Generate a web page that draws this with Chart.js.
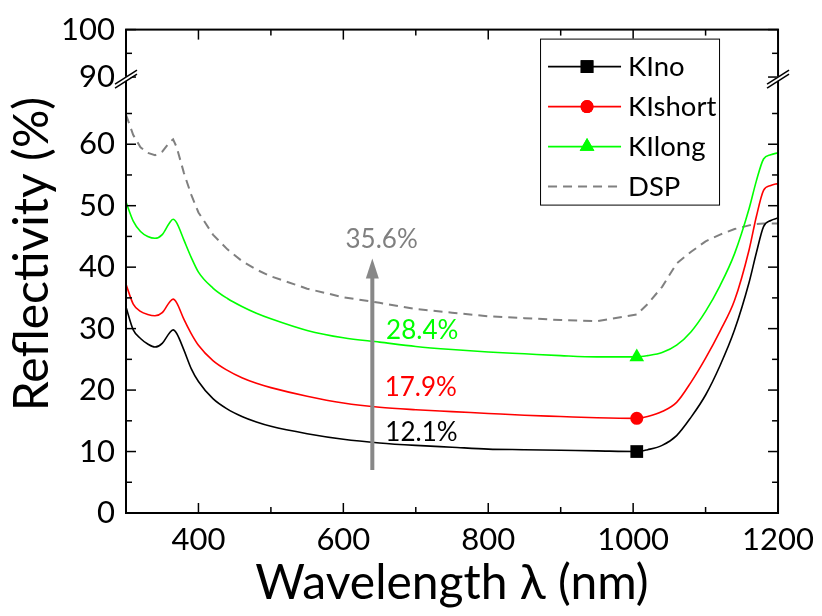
<!DOCTYPE html>
<html lang="en">
<head>
  <meta charset="UTF-8">
  <title>Reflectivity</title>
  <script src="https://cdn.jsdelivr.net/npm/chart.js"></script>
  <style>
    body { margin: 0; background: #fff; }
    #wrap { width: 822px; height: 616px; position: relative; }
  </style>
</head>
<body>
  <div id="wrap"><canvas id="reflChart"></canvas></div>
  <script>
    // wavelength (nm) and reflectivity (%)
    const wavelength = [300, 310, 320, 330, 340, 350, 360, 365, 370, 380, 390, 400, 420, 440, 460, 480, 500,
      550, 600, 650, 700, 750, 800, 850, 900, 950, 1005, 1020, 1040, 1060, 1080, 1100, 1120, 1140, 1160, 1170, 1180, 1190, 1200];
    const kiNo = [33.5, 29.8, 28.4, 27.5, 27.0, 27.6, 29.3, 29.8, 29.2, 26.5, 23.5, 21.4, 18.6, 16.9, 15.7, 14.8, 14.1,
      12.9, 12.0, 11.4, 11.0, 10.7, 10.4, 10.3, 10.2, 10.1, 10.0, 10.3, 11.0, 12.6, 15.6, 19.2, 24.0, 29.8, 37.5, 42.3, 46.6, 47.6, 48.0];
    const kiShort = [37.2, 34.0, 32.8, 32.3, 32.1, 32.6, 34.3, 34.8, 34.2, 31.5, 29.2, 27.3, 24.8, 23.2, 22.0, 21.1, 20.4,
      19.0, 17.9, 17.2, 16.8, 16.5, 16.2, 15.9, 15.7, 15.5, 15.4, 15.7, 16.5, 18.0, 21.3, 25.2, 29.6, 34.6, 42.8, 48.2, 52.5, 53.3, 53.6];
    const kiLong = [50.6, 47.5, 45.8, 45.0, 44.7, 45.3, 47.2, 47.8, 47.2, 44.4, 41.6, 39.2, 36.6, 34.9, 33.6, 32.5, 31.6,
      29.7, 28.5, 27.8, 27.1, 26.6, 26.2, 25.9, 25.6, 25.4, 25.4, 25.6, 26.1, 27.3, 29.5, 32.8, 37.0, 42.2, 49.5, 54.0, 57.6, 58.3, 58.6];
    const dsp = [64.8, 61.5, 59.5, 58.6, 58.2, 58.8, 60.3, 60.8, 59.5, 55.3, 51.8, 48.9, 45.3, 42.9, 41.0, 39.6, 38.5,
      36.5, 35.1, 34.2, 33.2, 32.6, 32.0, 31.7, 31.4, 31.2, 32.3, 34.0, 36.8, 40.6, 42.5, 44.2, 45.3, 46.2, 46.8, 47.0, 47.1, 47.1, 47.1];
    const seriesNames = ['KIno', 'KIshort', 'KIlong', 'DSP'];
    const markerWavelength = 1005;

    const xTicks = [400, 600, 800, 1000, 1200];
    const xMinorTicks = [500, 700, 900, 1100];
    const yTicksLower = [0, 10, 20, 30, 40, 50, 60];
    const yMinorLower = [5, 15, 25, 35, 45, 55, 65];
    const yTicksUpper = [90, 100];
    const yMinorUpper = [95];

    // averaged reflectivity labels, placed in data coordinates (wavelength, %)
    const avgLabels = ['35.6%', '28.4%', '17.9%', '12.1%'];
    const avgLabelX = [603, 659, 657, 658];
    const avgLabelY = [44.4, 29.6, 20.4, 13.1];
    const avgColors = ['#808080', '#00ff00', '#ff0000', '#000000'];
    const arrowX = 640;
    const arrowFrom = 7.0;
    const arrowTo = 41.4;

    const FONT = 'Lato';
    Chart.defaults.font.family = FONT;
    Chart.defaults.color = '#000';

    const styles = [
      { color: '#000000', marker: 'rect', radius: 9, dash: [] },
      { color: '#ff0000', marker: 'circle', radius: 6.5, dash: [] },
      { color: '#00ff00', marker: 'triangle', radius: 8.5, dash: [] },
      { color: '#808080', marker: false, radius: 0, dash: [9, 6] }
    ];
    const allSeries = [kiNo, kiShort, kiLong, dsp];

    const datasets = allSeries.map((vals, i) => ({
      label: seriesNames[i],
      data: wavelength.map((w, j) => ({ x: w, y: vals[j] })),
      yAxisID: 'y',
      borderColor: styles[i].color,
      backgroundColor: styles[i].color,
      borderWidth: i === 3 ? 2 : 1.6,
      borderDash: styles[i].dash,
      cubicInterpolationMode: i === 3 ? 'default' : 'monotone',
      tension: 0,
      pointStyle: styles[i].marker || 'circle',
      pointRadius: c => (styles[i].marker && wavelength[c.dataIndex] === markerWavelength) ? styles[i].radius : 0,
      pointBorderWidth: 0
    }));

    const plainTick = v => String(v);

    const decorPlugin = {
      id: 'decor',
      afterDatasetsDraw(chart) {
        const { ctx, chartArea: a, scales } = chart;
        const x = scales.x, y = scales.y, y2 = scales.y2;
        ctx.save();

        // arrow
        const ax = x.getPixelForValue(arrowX);
        const ay0 = y.getPixelForValue(arrowFrom);
        const ay1 = y.getPixelForValue(arrowTo);
        ctx.strokeStyle = '#888888';
        ctx.fillStyle = '#888888';
        ctx.lineWidth = 4;
        ctx.beginPath();
        ctx.moveTo(ax, ay0);
        ctx.lineTo(ax, ay1 + 16);
        ctx.stroke();
        ctx.beginPath();
        ctx.moveTo(ax, ay1);
        ctx.lineTo(ax - 6.5, ay1 + 20);
        ctx.lineTo(ax + 6.5, ay1 + 20);
        ctx.closePath();
        ctx.fill();

        // average labels
        ctx.font = '26px ' + FONT;
        ctx.textAlign = 'left';
        ctx.textBaseline = 'middle';
        avgLabels.forEach((t, i) => {
          ctx.fillStyle = avgColors[i];
          ctx.fillText(t, x.getPixelForValue(avgLabelX[i]), y.getPixelForValue(avgLabelY[i]));
        });

        // frame
        ctx.strokeStyle = '#000';
        ctx.lineWidth = 2;
        ctx.strokeRect(a.left, a.top, a.right - a.left, a.bottom - a.top);

        // inward ticks
        ctx.lineWidth = 1.5;
        const seg = (x1, y1, x2, y2p) => { ctx.beginPath(); ctx.moveTo(x1, y1); ctx.lineTo(x2, y2p); ctx.stroke(); };
        const xTick = (v, len) => {
          const px = x.getPixelForValue(v);
          seg(px, a.bottom, px, a.bottom - len);
          seg(px, a.top, px, a.top + len);
        };
        const yTick = (sc, v, len) => {
          const py = sc.getPixelForValue(v);
          seg(a.left, py, a.left + len, py);
          seg(a.right, py, a.right - len, py);
        };
        xTicks.forEach(v => xTick(v, 10));
        xMinorTicks.forEach(v => xTick(v, 6));
        yTicksLower.forEach(v => yTick(y, v, 10));
        yMinorLower.forEach(v => yTick(y, v, 6));
        yTicksUpper.forEach(v => yTick(y2, v, 10));
        yMinorUpper.forEach(v => yTick(y2, v, 6));

        // axis break marks
        const by = y.top;
        [a.left, a.right].forEach(bx => {
          ctx.fillStyle = '#fff';
          ctx.beginPath();
          ctx.moveTo(bx - 10, by + 6);
          ctx.lineTo(bx + 10, by - 7);
          ctx.lineTo(bx + 10, by - 3);
          ctx.lineTo(bx - 10, by + 10);
          ctx.closePath();
          ctx.fill();
          ctx.lineWidth = 1.5;
          seg(bx - 11, by + 7, bx + 11, by - 7);
          seg(bx - 11, by + 11, bx + 11, by - 3);
        });

        // y title
        ctx.save();
        ctx.translate(33, 254);
        ctx.rotate(-Math.PI / 2);
        ctx.fillStyle = '#000';
        ctx.font = '48px ' + FONT;
        ctx.textAlign = 'center';
        ctx.textBaseline = 'middle';
        ctx.fillText('Reflectivity (%)', 0, 0);
        ctx.restore();

        // legend box
        const lx = a.right - 238, ly = a.top + 9, lw = 179, lh = 166;
        ctx.lineWidth = 1;
        ctx.strokeStyle = '#000';
        ctx.fillStyle = '#fff';
        ctx.fillRect(lx, ly, lw, lh);
        ctx.strokeRect(lx + 0.5, ly + 0.5, lw, lh);
        ctx.font = '27.5px ' + FONT;
        ctx.textAlign = 'left';
        ctx.textBaseline = 'middle';
        seriesNames.forEach((name, i) => {
          const cy = ly + 28 + i * 40;
          const st = styles[i];
          ctx.strokeStyle = st.color;
          ctx.lineWidth = i === 3 ? 2 : 1.6;
          ctx.setLineDash(st.dash);
          seg(lx + 8, cy, lx + 81, cy);
          ctx.setLineDash([]);
          if (st.marker) {
            ctx.fillStyle = st.color;
            Chart.helpers.drawPoint(ctx, { pointStyle: st.marker, radius: st.radius, borderWidth: 0 }, lx + 47, cy);
            ctx.fill();
          }
          ctx.fillStyle = '#000';
          ctx.fillText(name, lx + 88, cy + 1);
        });

        ctx.restore();
      }
    };

    new Chart(document.getElementById('reflChart'), {
      type: 'line',
      data: { datasets },
      options: {
        responsive: true,
        maintainAspectRatio: false,
        animation: false,
        layout: { padding: { top: 24, right: 39, left: 0, bottom: 0 } },
        plugins: { legend: { display: false }, tooltip: { enabled: false } },
        scales: {
          x: {
            type: 'linear',
            min: 300,
            max: 1200,
            grid: { display: false, drawTicks: false },
            border: { display: false },
            afterBuildTicks: s => { s.ticks = xTicks.map(v => ({ value: v })); },
            ticks: { font: { size: 31 }, padding: 8, autoSkip: false, maxRotation: 0, color: '#000', callback: plainTick },
            title: { display: true, text: 'Wavelength λ (nm)', font: { size: 48 }, padding: { top: 0, bottom: 4 }, color: '#000' },
            afterFit: s => { s.height = 103; }
          },
          y: {
            type: 'linear',
            position: 'left',
            stack: 'left',
            stackWeight: 441,
            min: 0,
            max: 70.93,
            grid: { display: false, drawTicks: false },
            border: { display: false },
            afterBuildTicks: s => { s.ticks = yTicksLower.map(v => ({ value: v })); },
            ticks: { font: { size: 31 }, padding: 11, color: '#000', autoSkip: false, callback: plainTick },
            afterFit: s => { s.width = 126; }
          },
          y2: {
            type: 'linear',
            position: 'left',
            stack: 'left',
            stackWeight: 48,
            min: 90,
            max: 100,
            grid: { display: false, drawTicks: false },
            border: { display: false },
            afterBuildTicks: s => { s.ticks = yTicksUpper.map(v => ({ value: v })); },
            ticks: { font: { size: 31 }, padding: 11, color: '#000', autoSkip: false, callback: plainTick },
            afterFit: s => { s.width = 126; }
          }
        }
      },
      plugins: [decorPlugin]
    });
  </script>
</body>
</html>
